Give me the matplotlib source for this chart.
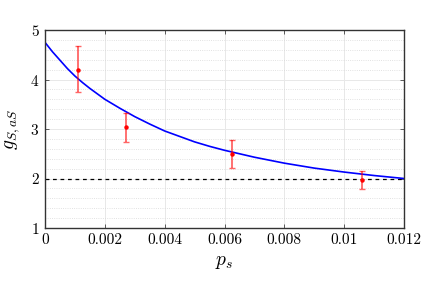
import numpy as np
import matplotlib
matplotlib.use('Agg')
import matplotlib.pyplot as plt
from matplotlib.ticker import MultipleLocator

plt.rcParams['font.family'] = 'cmr10'
plt.rcParams['mathtext.fontset'] = 'cm'
plt.rcParams['axes.formatter.use_mathtext'] = True

# measured points with error bars
ps = [0.00110, 0.00271, 0.00624, 0.01060]
g = [4.20, 3.04, 2.50, 1.97]
g_hi = [4.67, 3.33, 2.78, 2.15]
g_lo = [3.74, 2.74, 2.22, 1.79]

# model curve
curve_x = [0.0, 0.00025, 0.0005, 0.00075, 0.001, 0.00125, 0.0015, 0.00175,
           0.002, 0.0025, 0.003, 0.0035, 0.004, 0.0045, 0.005, 0.0055,
           0.006, 0.0065, 0.007, 0.0075, 0.008, 0.0085, 0.009, 0.0095,
           0.010, 0.0105, 0.011, 0.0115, 0.012]
curve_y = [4.75, 4.56, 4.39, 4.22, 4.07, 3.94, 3.82, 3.71,
           3.60, 3.42, 3.25, 3.10, 2.96, 2.85, 2.74, 2.65,
           2.57, 2.50, 2.43, 2.37, 2.31, 2.26, 2.21, 2.17,
           2.13, 2.095, 2.06, 2.03, 2.00]

xticks = [0, 0.002, 0.004, 0.006, 0.008, 0.01, 0.012]
xtick_labels = ['0', '0.002', '0.004', '0.006', '0.008', '0.01', '0.012']
yticks = [1, 2, 3, 4, 5]

fig = plt.figure(figsize=(4.36, 2.85), dpi=100)
ax = fig.add_axes([45/436, 1 - 228/285, 359/436, 198/285])

# grid
ax.yaxis.set_minor_locator(MultipleLocator(0.2))
ax.grid(True, which='major', color='#e8e8e8', linewidth=0.7)
ax.grid(True, which='minor', axis='y', color='#d8d8d8', linewidth=0.6, linestyle=':')
ax.set_axisbelow(True)

ax.axhline(2, color='black', linestyle='--', linewidth=0.9, dashes=(3, 3))
ax.plot(curve_x, curve_y, color='blue', linewidth=1.2)

g_arr = np.array(g)
yerr = [g_arr - np.array(g_lo), np.array(g_hi) - g_arr]
ax.errorbar(ps, g, yerr=yerr, fmt='o', color='red', markersize=2.2,
            ecolor=(1, 0, 0, 0.6), elinewidth=1.3, capsize=2, capthick=1)

ax.set_xlim(0, 0.012)
ax.set_ylim(1, 5)
ax.set_xticks(xticks)
ax.set_xticklabels(xtick_labels)
ax.set_yticks(yticks)
ax.tick_params(which='both', direction='in', top=True, right=True,
               length=3, width=0.6, color='#444444', labelsize=11, pad=4)
ax.tick_params(which='minor', length=0)
for s in ax.spines.values():
    s.set_color('#333333')
    s.set_linewidth(1.0)

ax.set_xlabel(r'$p_s$', fontsize=14, labelpad=4)
ax.set_ylabel(r'$g_{S,aS}$', fontsize=14, labelpad=6)

fig.savefig('out.png', dpi=100)
